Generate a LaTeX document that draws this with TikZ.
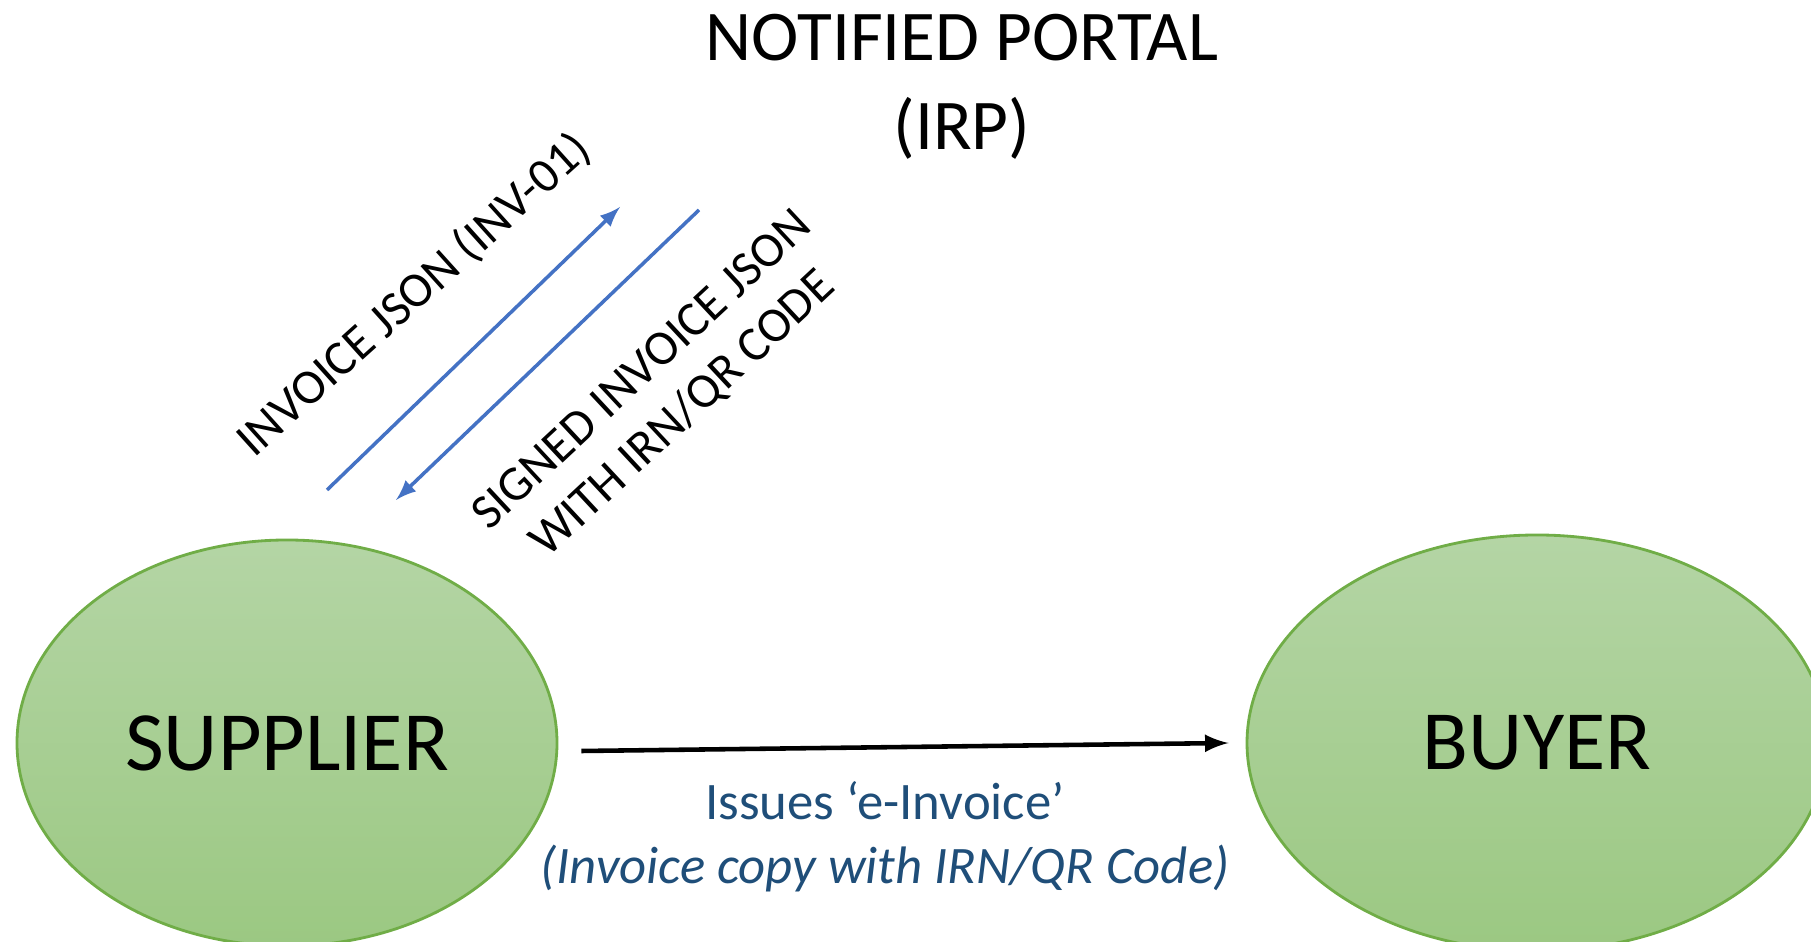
\documentclass[tikz,border=0pt]{standalone}
\usepackage{fontspec}
\setmainfont{Carlito}
\usepackage{xcolor}
\usepackage{tikz}
\usetikzlibrary{shapes.geometric}
\usetikzlibrary{calc}
\usetikzlibrary{positioning}
\definecolor{leafline}{RGB}{112,173,71}
\definecolor{leaftop}{RGB}{180,213,165}
\definecolor{leafbottom}{RGB}{155,200,130}
\definecolor{flowblue}{RGB}{68,114,196}
\definecolor{notenavy}{RGB}{31,78,121}
\tikzset{
  party/.style={ellipse,draw=leafline,line width=0.8pt,top color=leaftop,bottom color=leafbottom,
    inner sep=0pt,font=\fontsize{24}{28}\selectfont},
  flowlabel/.style={font=\fontsize{14}{17}\selectfont,align=center}
}

\begin{document}
\begin{tikzpicture}[>=latex]
	\useasboundingbox (0,0) rectangle (18.11,9.42);

	\node [party,minimum width=5.40cm,minimum height=4.06cm] (supplier) at (2.87,1.99) {SUPPLIER};
	\node [party,minimum width=5.80cm,minimum height=4.16cm] (buyer) at (15.37,1.99) {BUYER};

	\node [align=center,font=\fontsize{20.3}{25.5}\selectfont] (portal) at (9.62,8.55) {NOTIFIED PORTAL\\(IRP)};

	% request / response to the portal
	\coordinate [] (upA) at (3.27,4.52);
	\coordinate [] (upB) at (6.20,7.35);
	\coordinate [] (downA) at (6.99,7.32);
	\coordinate [] (downB) at (3.96,4.42);
	\draw[flowblue,line width=1pt,->] (upA)--(upB);
	\draw[flowblue,line width=1pt,->] (downA)--(downB);

	\node [flowlabel,rotate=42] (reqlabel) at (4.14,6.47) {INVOICE JSON (INV-01)};
	\node [flowlabel,rotate=43] (reslabel) at (6.63,5.49) {SIGNED INVOICE JSON\\WITH IRN/QR CODE};

	% e-invoice to the buyer
	\draw[line width=1.3pt,->] ($(supplier.east)+(0.23,-0.08)$)--($(buyer.west)+(-0.17,0)$);
	\node [align=center,text=notenavy,font=\fontsize{15}{18.2}\selectfont] (issues) at (8.85,1.05)
		{Issues ‘e-Invoice’\\\textit{(Invoice copy with IRN/QR Code)}};

\end{tikzpicture}
\end{document}
